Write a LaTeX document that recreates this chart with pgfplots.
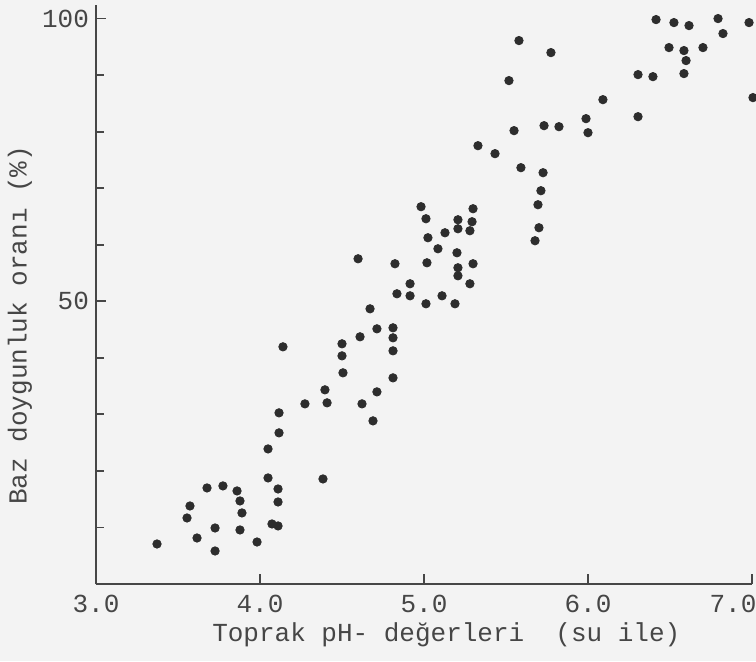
\documentclass[border=0pt]{standalone}
\usepackage{fontspec}
\setmainfont{Liberation Mono}
\usepackage{pgfplots}
\pgfplotsset{compat=1.18}
\definecolor{bg}{RGB}{243,243,243}
\definecolor{ink}{RGB}{70,70,70}
\definecolor{dot}{RGB}{45,45,45}
\begin{document}
\begin{tikzpicture}
\fill[bg] (-48pt,-38.5pt) rectangle (330pt,292pt);
\begin{axis}[
  at={(0,0)}, anchor=south west,
  scale only axis, width=328pt, height=289.5pt,
  xmin=3, xmax=7, ymin=0, ymax=102.4,
  clip=false,
  axis lines=left, axis line style={-, ink, line width=1.2pt},
  tick align=inside, tick style={ink, line width=0.9pt},
  major tick length=5pt, minor tick length=4pt,
  xtick={3,4,5,6,7}, xticklabels={3.0,4.0,5.0,6.0,7.0\hspace*{19pt}},
  ytick={50,100}, minor ytick={10,20,30,40,60,70,80,90},
  /pgf/number format/assume math mode=true,
  tick label style={font=\fontsize{13}{13}\selectfont, text=ink},
  xticklabel style={yshift=-2pt},
  xlabel={Toprak pH- değerleri\ \ (su ile)},
  ylabel={Baz doygunluk oranı (\%)},
  label style={font=\fontsize{13}{13}\selectfont, text=ink},
  xlabel style={at={(axis description cs:0.534,0)}, anchor=north, yshift=-16pt},
  ylabel style={at={(axis description cs:-0.116,0.447)}, anchor=center},
]
\addplot[only marks, mark=*, mark size=2.1pt, dot] coordinates {
(3.372,7.08) (3.555,11.68) (3.573,13.8) (3.616,8.14) (3.677,16.99)
(3.774,17.35) (3.860,16.46) (3.878,14.69) (3.890,12.57) (3.726,9.91)
(3.878,9.56) (3.726,5.84) (3.982,7.43) (4.049,18.76) (4.110,16.81)
(4.110,14.51) (4.110,10.27) (4.073,10.62) (4.049,23.89) (4.116,26.73)
(4.116,30.27) (4.140,41.95) (4.274,31.86) (4.384,18.58) (4.396,34.34)
(4.409,32.04) (4.500,42.48) (4.500,40.35) (4.506,37.35) (4.622,31.86)
(4.689,28.85) (4.713,33.98) (4.811,36.46) (4.598,57.52) (4.610,43.72)
(4.671,48.67) (4.713,45.13) (4.811,45.31) (4.811,43.54) (4.811,41.24)
(4.823,56.64) (4.835,51.33) (4.915,53.10) (4.915,50.97) (4.982,66.73)
(5.012,64.60) (5.024,61.24) (5.018,56.81) (5.012,49.56) (5.085,59.29)
(5.110,50.97) (5.128,62.12) (5.189,49.56) (5.201,58.58) (5.207,64.42)
(5.207,62.83) (5.207,55.93) (5.207,54.51) (5.280,62.48) (5.293,64.07)
(5.299,66.37) (5.299,56.64) (5.280,53.10) (5.329,77.52) (5.433,76.11)
(5.518,89.03) (5.579,96.11) (5.549,80.18) (5.591,73.63) (5.677,60.71)
(5.701,63.01) (5.695,67.08) (5.713,69.56) (5.726,72.74) (5.732,81.06)
(5.774,93.98) (5.823,80.88) (5.988,82.30) (6.000,79.82) (6.091,85.66)
(6.305,82.65) (6.305,90.09) (6.396,89.73) (6.415,99.82) (6.524,99.29)
(6.616,98.76) (6.494,94.87) (6.585,94.34) (6.598,92.57) (6.585,90.27)
(6.701,94.87) (6.793,100.0) (6.823,97.35) (6.982,99.29) (7.006,86.02)
};
\end{axis}
\pgfresetboundingbox
\path[use as bounding box] (-48pt,-38.5pt) rectangle (330pt,292pt);
\end{tikzpicture}
\end{document}
